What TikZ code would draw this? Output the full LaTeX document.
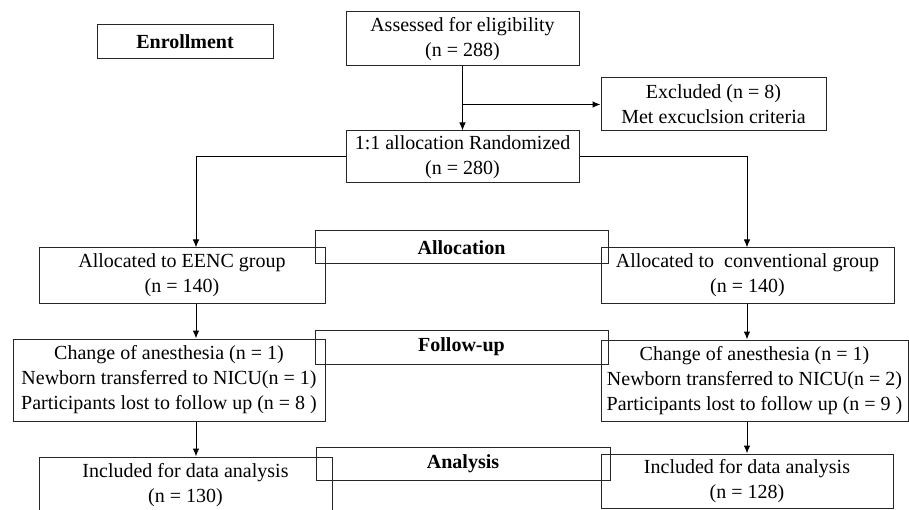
\documentclass[tikz,border=0pt]{standalone}
\usepackage{fontspec}
\setmainfont{Liberation Serif}
\usetikzlibrary{calc, arrows.meta}

\begin{document}
\begin{tikzpicture}[x = 1pt, y = -1pt, >={Latex[length=8pt, width=6.5pt]}, line width = 1pt,
  box/.style = {draw = black!85, align = center, inner sep = 0pt, text = black, font = \fontsize{20}{25}\selectfont},
  tag/.style = {box, font = \fontsize{20}{25}\selectfont\bfseries}]
\useasboundingbox (0,0) rectangle (909,510);
\clip (0,0) rectangle (909,510);
\coordinate (lcol) at (196,0);
\coordinate (rcol) at (747,0);
\node[tag, minimum width = 176, minimum height = 34] (enroll) at (185,42) {Enrollment};
\node[box, minimum width = 233, minimum height = 54] (assess) at (462.5,39) {Assessed for eligibility\\(n = 288)};
\node[box, minimum width = 225, minimum height = 53] (excl) at (713.5,104.5) {Excluded (n = 8)\\Met excuclsion criteria};
\node[box, minimum width = 233, minimum height = 52] (rand) at (462.5,157) {1:1 allocation Randomized\\(n = 280)};
\node[tag, minimum width = 293, minimum height = 33] (alloc) at (461.5,247.5) {Allocation};
\node[box, minimum width = 286, minimum height = 55] (eenc) at (182,275.5) {Allocated to EENC group\\(n = 140)};
\node[box, minimum width = 293, minimum height = 55] (conv) at (747.5,275.5) {Allocated to~ conventional group\\(n = 140)};
\node[tag, minimum width = 293, minimum height = 34] (follow) at (461.5,347) {Follow-up};
\node[box, minimum width = 312, minimum height = 82] (fl) at (169,380) {Change of anesthesia (n = 1)\\Newborn transferred to NICU(n = 1)\\Participants lost to follow up (n = 8 )};
\node[box, minimum width = 307, minimum height = 81] (fr) at (754.5,380.5) {Change of anesthesia (n = 1)\\Newborn transferred to NICU(n = 2)\\Participants lost to follow up (n = 9 )};
\node[tag, minimum width = 294, minimum height = 33] (analysis) at (463,463.5) {Analysis};
\node[box, minimum width = 293, minimum height = 56] (inl) at (185.5,485) {Included for data analysis\\(n = 130)};
\node[box, minimum width = 292, minimum height = 54] (inr) at (747,481) {Included for data analysis\\(n = 128)};
\draw[->] (assess) -- (rand);
\draw[->] (assess.south |- excl.west) -- (excl.west);
\draw[->] (rand.west) -| (lcol |- eenc.north);
\draw[->] (rand.east) -| (rcol |- conv.north);
\draw[->] (lcol |- eenc.south) -- (lcol |- fl.north);
\draw[->] (rcol |- conv.south) -- (rcol |- fr.north);
\draw[->] (lcol |- fl.south) -- (lcol |- inl.north);
\draw[->] (rcol |- fr.south) -- (rcol |- inr.north);
\end{tikzpicture}
\end{document}
